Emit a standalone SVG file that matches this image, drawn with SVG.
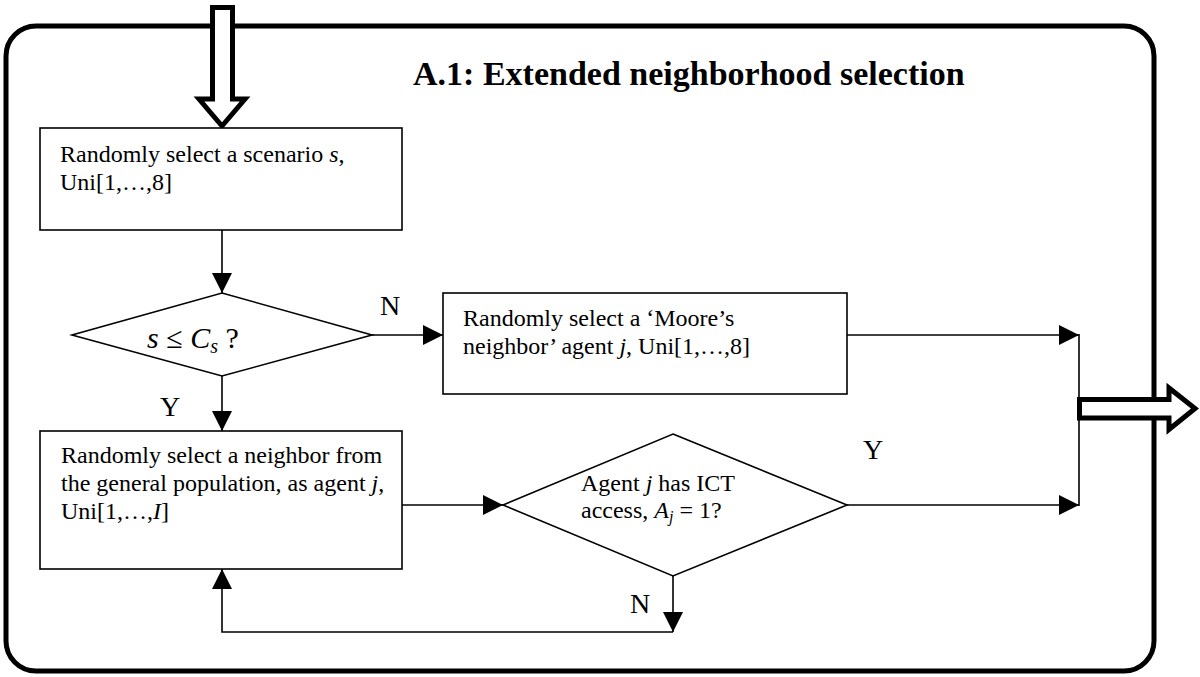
<svg xmlns="http://www.w3.org/2000/svg" width="1200" height="677" viewBox="0 0 1200 677">
  <style>
    .frame { fill: none; stroke: #000; stroke-width: 5; }
    .bigarrow { fill: #fff; stroke: #000; stroke-width: 5; stroke-linejoin: miter; }
    .box { fill: #fff; stroke: #000; stroke-width: 1.6; }
    .wire { fill: none; stroke: #000; stroke-width: 1.6; }
    .txt { font-family: "Liberation Serif", "Times New Roman", serif; font-size: 24px; fill: #000; }
    .lbl { font-family: "Liberation Serif", "Times New Roman", serif; font-size: 28px; fill: #000; }
    .cond { font-family: "Liberation Serif", "Times New Roman", serif; font-size: 30px; fill: #000; }
    .title { font-family: "Liberation Serif", "Times New Roman", serif; font-size: 34px; font-weight: bold; fill: #000; }
    .it { font-style: italic; }
  </style>
  <defs>
    <marker id="head" markerUnits="userSpaceOnUse" markerWidth="20" markerHeight="20" refX="20" refY="10" orient="auto">
      <path d="M0,0 L20,10 L0,20 Z" fill="#000"/>
    </marker>
  </defs>

  <rect fill="#fff" x="0" y="0" width="1200" height="677"/>

  <!-- module frame -->
  <rect class="frame" x="6" y="26" width="1148" height="645" rx="30" ry="30"/>
  <text class="title" x="413" y="85">A.1: Extended neighborhood selection</text>

  <!-- connectors -->
  <g id="connectors">
    <line class="wire" x1="222" y1="230" x2="222" y2="293" marker-end="url(#head)"/>
    <line class="wire" x1="372" y1="335" x2="443" y2="335" marker-end="url(#head)"/>
    <line class="wire" x1="222" y1="376" x2="222" y2="431" marker-end="url(#head)"/>
    <line class="wire" x1="402" y1="505" x2="503" y2="505" marker-end="url(#head)"/>
    <line class="wire" x1="847" y1="335" x2="1079" y2="335" marker-end="url(#head)"/>
    <line class="wire" x1="847" y1="505" x2="1079" y2="505" marker-end="url(#head)"/>
    <line class="wire" x1="1079" y1="334" x2="1079" y2="506"/>
    <line class="wire" x1="673" y1="576" x2="673" y2="632" marker-end="url(#head)"/>
    <polyline class="wire" points="673,632 222,632 222,569" marker-end="url(#head)"/>
    <text class="lbl" x="380" y="315">N</text>
    <text class="lbl" x="160" y="416">Y</text>
    <text class="lbl" x="863" y="459">Y</text>
    <text class="lbl" x="630" y="613">N</text>
  </g>

  <!-- entry and exit arrows -->
  <g id="entry">
    <polygon class="bigarrow" points="212.5,7.5 232.5,7.5 232.5,99 245,99 222,126 199,99 212.5,99"/>
  </g>
  <g id="exit">
    <polygon class="bigarrow" points="1079.5,399.5 1169,399.5 1169,388 1195,408.5 1169,429.5 1169,418 1079.5,418"/>
  </g>

  <g id="select-scenario">
    <rect class="box" x="40" y="128" width="362" height="102"/>
    <text class="txt" x="60" y="162">Randomly select a scenario <tspan class="it">s</tspan>,</text>
    <text class="txt" x="60" y="190">Uni[1,…,8]</text>
  </g>

  <g id="scenario-test">
    <polygon class="box" points="222,293 372,335 222,376 72,335"/>
    <text class="cond" x="147" y="348"><tspan class="it">s</tspan> ≤ <tspan class="it">C</tspan><tspan class="it" font-size="20" dy="5">s</tspan><tspan dy="-5"> ?</tspan></text>
  </g>

  <g id="moore-neighbor">
    <rect class="box" x="443" y="293" width="404" height="101"/>
    <text class="txt" x="463" y="326">Randomly select a ‘Moore’s</text>
    <text class="txt" x="463" y="354">neighbor’ agent <tspan class="it">j</tspan>, Uni[1,…,8]</text>
  </g>

  <g id="general-neighbor">
    <rect class="box" x="40" y="431" width="362" height="138"/>
    <text class="txt" x="61" y="463">Randomly select a neighbor from</text>
    <text class="txt" x="61" y="491">the general population, as agent <tspan class="it">j</tspan>,</text>
    <text class="txt" x="61" y="519">Uni[1,…,<tspan class="it">I</tspan>]</text>
  </g>

  <g id="ict-test">
    <polygon class="box" points="673,434 847,505 673,576 503,505"/>
    <text class="txt" x="581" y="491">Agent <tspan class="it">j</tspan> has ICT</text>
    <text class="txt" x="581" y="518">access, <tspan class="it">A</tspan><tspan class="it" font-size="16" dy="4">j</tspan><tspan dy="-4"> = 1?</tspan></text>
  </g>
</svg>
